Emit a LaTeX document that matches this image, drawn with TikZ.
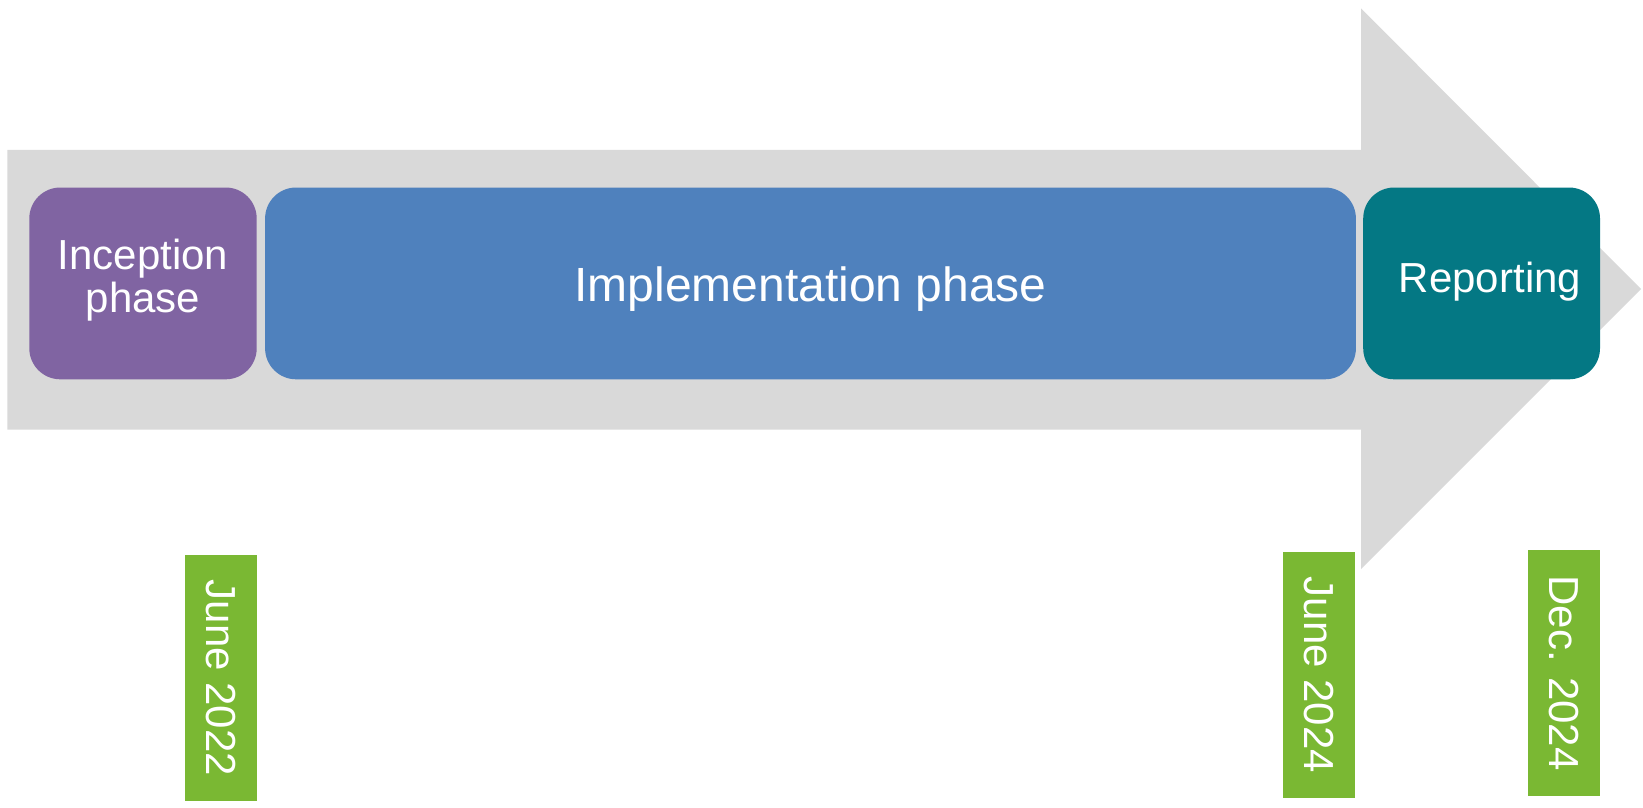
\documentclass[tikz,border=0pt]{standalone}
\usepackage{fontspec}
\setmainfont{Liberation Sans}
\definecolor{arrowgray}{HTML}{D9D9D9}
\definecolor{inceptcol}{HTML}{8064A2}
\definecolor{implcol}{HTML}{4F81BD}
\definecolor{reportcol}{HTML}{047884}
\definecolor{datecol}{HTML}{7AB833}
\tikzset{
    phasebox/.style={fill=#1, rounded corners=15.5pt, inner sep=0pt, outer sep=0pt,
        minimum height=95.9pt},
    phasetext/.style={text=white, align=center, inner sep=0pt,
        font=\fontsize{21}{21.35}\selectfont},
    datebox/.style={fill=datecol, rotate=-90, inner sep=0pt, outer sep=0pt,
        minimum width=122.9pt, minimum height=36pt, text=white,
        font=\fontsize{21}{21.5}\selectfont}
}
\begin{document}
\begin{tikzpicture}[x=0.5pt, y=-0.5pt]
    \useasboundingbox (0,0) rectangle (1643,808);

    \fill[arrowgray] (7.3,149.8) -- (1361,149.8) -- (1361,8.4) -- (1641,289)
        -- (1361,569) -- (1361,429.6) -- (7.3,429.6) -- cycle;

    \node[phasebox=inceptcol, minimum width=113.7pt] (incept) at (143,283.4) {};
    \node[phasebox=implcol, minimum width=545.4pt] (impl) at (810.5,283.4) {};
    \node[phasebox=reportcol, minimum width=118.4pt] (report) at (1481.6,283.4) {};

    \node[phasetext] (incepttext) at ([yshift=1.8pt]incept.center) {Inception\\phase};
    \node[phasetext, font=\fontsize{24}{26}\selectfont] (impltext) at ([yshift=-2.85pt]impl.center) {Implementation phase};
    \node[phasetext] (reporttext) at (1490,281.5) {Reporting};

    \node[datebox] (d1) at (221,678) {June 2022};
    \node[datebox] (d2) at (1318.9,674.9) {June 2024};
    \node[datebox] (d3) at (1564.2,673) {Dec. 2024};
\end{tikzpicture}
\end{document}
